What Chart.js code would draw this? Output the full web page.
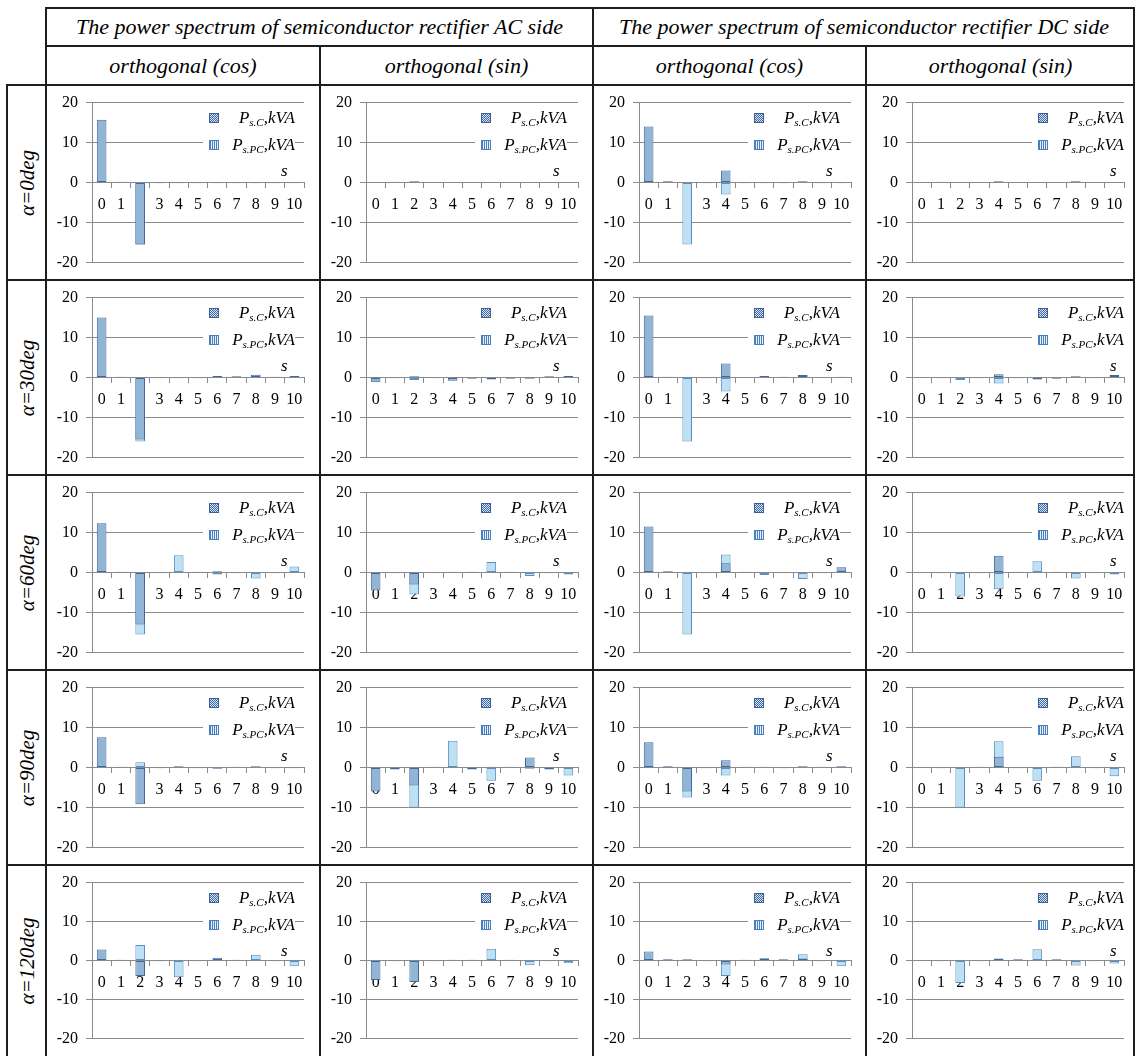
<!DOCTYPE html>
<html>
<head>
<meta charset="utf-8">
<script src="https://cdn.jsdelivr.net/npm/chart.js@4.4.1/dist/chart.umd.min.js"></script>
<style>
body { margin: 0; background: #fff; }
#page { position: relative; width: 1135px; height: 1056px; overflow: hidden; font-family: "Liberation Serif", "Times New Roman", Times, "DejaVu Serif", serif; }
.line { position: absolute; background: #1e1e1e; z-index: 5; }
.hdr { position: absolute; display: flex; align-items: center; justify-content: center; font-style: italic; font-size: 22px; white-space: nowrap; }
.rowlab { position: absolute; font-style: italic; font-size: 21px; white-space: nowrap; transform: translate(-50%, -50%) rotate(-90deg); }
.cell { position: absolute; }
.cell canvas { position: absolute; left: 0; top: 0; }
.leg { position: absolute; background: #fff; width: 92px; height: 46px; z-index: 2; }
.sw { position: absolute; left: 6px; width: 8px; height: 8px; }
.sw.c { background: repeating-conic-gradient(#3d6aa6 0% 25%, #d8e4f2 0% 50%) 0 0/2px 2px; border: 1px solid #3d5f93; }
.sw.pc { background: repeating-linear-gradient(90deg, #4a7fbf 0 1px, #e6f1fa 1px 2px); border: 1px solid #4a7fbf; }
.lt { position: absolute; right: 0; font-style: italic; font-size: 17px; white-space: nowrap; line-height: 18px; }
.lt sub { font-size: 11px; vertical-align: -3px; line-height: 0; }
.sl { position: absolute; font-style: italic; font-size: 17px; z-index: 2; }
</style>
</head>
<body>
<div id="page"></div>
<script>
// harmonic number s on the x axis
const sLabels = ['0', '1', '2', '3', '4', '5', '6', '7', '8', '9', '10'];
const yTicks = [-20, -10, 0, 10, 20];

const colTitles = ['The power spectrum of semiconductor rectifier AC side', 'The power spectrum of semiconductor rectifier DC side'];
const subTitles = ['orthogonal (cos)', 'orthogonal (sin)', 'orthogonal (cos)', 'orthogonal (sin)'];
const rowTitles = ['α=0deg', 'α=30deg', 'α=60deg', 'α=90deg', 'α=120deg'];

// one row per alpha (0, 30, 60, 90, 120 deg), values for s = 0..10, kVA
const acCosC = [
  [15.7, 0.2, -15.5, -0.2, -0.2, -0.2, -0.2, -0.2, -0.2, -0.2, -0.2],
  [15.0, 0.2, -15.5, -0.2, -0.2, -0.2, 0.4, 0.3, 0.7, 0.2, 0.4],
  [12.3, 0.2, -13.0, -0.2, null, 0.2, 0.3, -0.2, null, -0.2, null],
  [7.6, 0.2, -9.2, -0.2, 0.3, -0.2, -0.3, 0.2, 0.3, -0.2, -0.2],
  [2.8, 0.2, -4.0, -0.2, null, -0.2, 0.7, 0.2, null, -0.2, null]
];
const acCosPC = [
  [null, null, -15.5, null, null, null, null, null, null, null, null],
  [null, null, -16.0, null, null, null, null, null, null, null, null],
  [null, null, -15.5, null, 4.3, null, -0.5, null, -1.5, null, 1.5],
  [null, null, 1.3, null, null, null, null, null, null, null, null],
  [null, null, 4.0, null, -4.3, null, null, null, 1.5, null, -1.5]
];
const acSinC = [
  [null, 0.2, 0.3, -0.1, -0.1, -0.1, -0.1, -0.1, null, null, null],
  [-1.2, -0.2, 0.3, -0.2, -0.8, -0.3, -0.5, -0.3, -0.3, 0.3, 0.4],
  [-4.5, -0.2, -3.0, -0.2, 0.2, 0.2, null, 0.2, null, -0.2, null],
  [-6.0, -0.5, -4.5, 0.2, null, -0.5, 0.2, 0.2, 2.5, -0.5, null],
  [-5.0, -0.2, -5.5, -0.2, 0.2, 0.2, null, 0.2, null, -0.2, null]
];
const acSinPC = [
  [null, null, null, null, null, null, null, null, null, null, null],
  [null, null, -0.6, null, null, null, null, null, null, null, null],
  [null, null, -5.5, null, null, null, 2.6, null, -0.9, null, -0.5],
  [null, null, -10.0, null, 6.7, null, -3.3, null, -0.3, null, -2.0],
  [null, null, null, null, null, null, 3.0, null, -1.2, null, -0.7]
];
const dcCosC = [
  [14.0, 0.3, null, -0.2, 3.0, -0.2, -0.2, -0.2, 0.3, -0.2, -0.2],
  [15.5, 0.2, null, -0.2, 3.5, -0.1, 0.4, 0.2, 0.6, 0.1, 0.2],
  [11.5, 0.3, null, -0.2, 2.3, 0.2, null, -0.2, null, -0.2, 1.3],
  [6.3, 0.3, -6.0, -0.2, 1.8, 0.2, 0.2, -0.2, 0.3, 0.2, 0.3],
  [2.3, 0.3, 0.3, -0.2, -1.0, 0.2, 0.6, 0.3, 0.5, -0.2, null]
];
const dcCosPC = [
  [null, null, -15.5, null, -3.0, null, null, null, null, null, null],
  [null, null, -16.0, null, -3.5, null, null, null, null, null, null],
  [null, null, -15.5, null, 4.5, null, -0.6, null, -1.6, null, null],
  [null, null, -7.5, null, -2.0, null, null, null, null, null, null],
  [null, null, null, null, -4.0, null, null, null, 1.6, null, -1.5]
];
const dcSinC = [
  [null, 0.2, -0.1, -0.1, 0.3, -0.1, -0.1, -0.1, 0.3, null, null],
  [null, -0.2, null, -0.2, 0.8, -0.2, -0.5, -0.3, 0.3, -0.2, 0.6],
  [null, -0.2, null, -0.2, 4.2, 0.2, null, 0.2, null, -0.2, null],
  [null, -0.2, null, 0.2, 2.7, -0.2, null, 0.2, null, -0.2, null],
  [null, -0.2, null, -0.2, 0.5, 0.3, null, 0.3, null, -0.2, null]
];
const dcSinPC = [
  [null, null, null, null, null, null, null, null, null, null, null],
  [null, null, -0.6, null, -1.5, null, null, null, null, null, null],
  [null, null, -6.0, null, -4.2, null, 2.8, null, -1.5, null, -0.5],
  [null, null, -10.0, null, 6.6, null, -3.3, null, 2.8, null, -2.2],
  [null, null, -5.8, null, null, null, 2.9, null, -1.3, null, -0.8]
];

const panelC = [acCosC, acSinC, dcCosC, dcSinC];
const panelPC = [acCosPC, acSinPC, dcCosPC, dcSinPC];

// table geometry
const colX = [46, 320, 593, 866, 1135];
const rowY = [85, 280, 475, 670, 865, 1056];
const legRight = [249, 247, 247, 258];

const fontFam = '"Liberation Serif", "Times New Roman", Times, "DejaVu Serif", serif';
const gridGray = '#8a8a8a';
const page = document.getElementById('page');

function line(x, y, w, h) {
  const d = document.createElement('div');
  d.className = 'line';
  Object.assign(d.style, { left: x + 'px', top: y + 'px', width: w + 'px', height: h + 'px' });
  page.appendChild(d);
}
function box(cls, x, y, w, h, html) {
  const d = document.createElement('div');
  d.className = cls;
  Object.assign(d.style, { left: x + 'px', top: y + 'px', width: w + 'px', height: h + 'px' });
  d.innerHTML = html;
  page.appendChild(d);
  return d;
}

// headers
box('hdr', 46, 8, 547, 38, colTitles[0]);
box('hdr', 593, 8, 542, 38, colTitles[1]);
for (let c = 0; c < 4; c++) box('hdr', colX[c], 46, colX[c + 1] - colX[c], 39, subTitles[c]);

// row labels
rowTitles.forEach((t, r) => {
  const d = document.createElement('div');
  d.className = 'rowlab';
  d.textContent = t;
  d.style.left = '27px';
  d.style.top = ((rowY[r] + rowY[r + 1]) / 2) + 'px';
  page.appendChild(d);
});

// table lines
line(45, 7, 1090, 2);
line(45, 45, 1090, 2);
for (let r = 0; r < 5; r++) line(6, rowY[r] - 1, 1129, 2);
line(6, 84, 2, 972);
line(45, 7, 2, 1049);
line(592, 7, 2, 1049);
line(319, 45, 2, 1011);
line(865, 45, 2, 1011);
line(1133, 7, 2, 1049);

function makePanel(c, r) {
  const x0 = colX[c], y0 = rowY[r];
  const W = colX[c + 1] - x0, H = rowY[r + 1] - y0;
  const cell = box('cell', x0, y0, W, H, '');
  const cv = document.createElement('canvas');
  cv.width = W; cv.height = H;
  cell.appendChild(cv);

  const lr = legRight[c];
  const leg = document.createElement('div');
  leg.className = 'leg';
  leg.style.left = (lr - 92) + 'px';
  leg.style.top = '22px';
  leg.innerHTML =
    '<div class="sw c" style="top:6px"></div><div class="lt" style="top:2px">P<sub>s.C</sub>,kVA</div>' +
    '<div class="sw pc" style="top:33px"></div><div class="lt" style="top:29px">P<sub>s.PC</sub>,kVA</div>';
  cell.appendChild(leg);
  const s = document.createElement('div');
  s.className = 'sl';
  s.textContent = 's';
  s.style.left = (lr - 14) + 'px';
  s.style.top = '76px';
  cell.appendChild(s);

  new Chart(cv, {
    type: 'bar',
    data: {
      labels: sLabels,
      datasets: [
        { label: 'Ps.C,kVA', data: panelC[c][r], backgroundColor: '#92b5d6', borderColor: '#41689c',
          borderWidth: 1, borderSkipped: false, grouped: false, barPercentage: 0.5, categoryPercentage: 1 },
        { label: 'Ps.PC,kVA', data: panelPC[c][r], backgroundColor: '#bde0f2', borderColor: '#5a8fc6',
          borderWidth: 1, borderSkipped: false, grouped: false, barPercentage: 0.5, categoryPercentage: 1 }
      ]
    },
    options: {
      responsive: false,
      animation: false,
      events: [],
      layout: { padding: { left: 10, right: W - 258, top: 17, bottom: H - 179 } },
      plugins: { legend: { display: false }, tooltip: { enabled: false } },
      scales: {
        x: {
          position: { y: 0 },
          z: 1,
          offset: true,
          afterFit: sc => { sc.height = 0; },
          grid: { display: true, drawOnChartArea: false, offset: true, tickLength: 5, color: gridGray },
          border: { color: gridGray },
          ticks: { color: '#000', font: { family: fontFam, size: 16 }, padding: 8, maxRotation: 0, autoSkip: false }
        },
        y: {
          min: -20, max: 20,
          afterFit: sc => { sc.width = 36; },
          afterBuildTicks: sc => { sc.ticks = yTicks.map(v => ({ value: v })); },
          grid: { color: gridGray, tickLength: 6 },
          border: { color: gridGray },
          ticks: { color: '#000', font: { family: fontFam, size: 16 }, padding: 8 }
        }
      }
    }
  });
}

for (let r = 0; r < 5; r++) for (let c = 0; c < 4; c++) makePanel(c, r);
</script>
</body>
</html>
